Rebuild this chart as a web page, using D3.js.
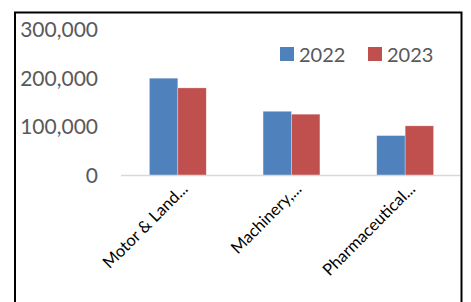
<!DOCTYPE html>
<html>
<head>
<meta charset="utf-8">
<script src="https://cdn.jsdelivr.net/npm/d3@7/dist/d3.min.js"></script>
<style>
  html, body { margin: 0; padding: 0; background: #fff; }
  svg { display: block; }
</style>
</head>
<body>
<script>
const categories = ["Motor & Land...", "Machinery,...", "Pharmaceutical..."];
const seriesNames = ["2022", "2023"];
const values2022 = [200000, 132000, 82000];
const values2023 = [180000, 126000, 102000];
const yTicks = [0, 100000, 200000, 300000];
const colors = ["#4f81bd", "#c0504d"];

const W = 471, H = 302;
const font = "Lato, 'Open Sans', sans-serif";

const svg = d3.select("body").append("svg")
    .attr("width", W)
    .attr("height", H);

// frame (bottom edge falls outside the picture)
svg.append("path")
    .attr("d", "M15,310 V12.5 H461.5 V310")
    .attr("fill", "none")
    .attr("stroke", "#000")
    .attr("stroke-width", 2);

const x = d3.scaleBand().domain(categories).range([121, 462]);
const x1 = d3.scaleBand().domain(seriesNames)
    .range([x.bandwidth() * 0.25, x.bandwidth() * 0.75]);
const y = d3.scaleLinear().domain([0, 300000]).range([175.5, 29.5]);

const rows = categories.map((c, i) => ({
    cat: c,
    vals: [values2022[i], values2023[i]]
}));

// y tick labels
const fmt = d3.format(",");
svg.append("g").selectAll("text")
    .data(yTicks)
    .enter()
    .append("text")
    .attr("x", 98)
    .attr("y", d => y(d))
    .attr("dy", "0.35em")
    .attr("text-anchor", "end")
    .attr("font-family", font)
    .attr("font-size", 21)
    .attr("fill", "#595959")
    .text(d => fmt(d));

// bars
const groups = svg.append("g").selectAll("g")
    .data(rows)
    .enter()
    .append("g")
    .attr("transform", d => `translate(${x(d.cat)},0)`);

groups.selectAll("rect")
    .data(d => d.vals.map((v, j) => ({ s: seriesNames[j], v: v, j: j })))
    .enter()
    .append("rect")
    .attr("x", d => x1(d.s))
    .attr("y", d => y(d.v))
    .attr("width", x1.bandwidth())
    .attr("height", d => y(0) - y(d.v))
    .attr("fill", d => colors[d.j])
    .attr("stroke", "#fff")
    .attr("stroke-opacity", 0.5)
    .attr("stroke-width", 0.6);

// baseline
svg.append("line")
    .attr("x1", 121)
    .attr("x2", 460)
    .attr("y1", y(0))
    .attr("y2", y(0))
    .attr("stroke", "#d9d9d9")
    .attr("stroke-width", 1.5);

// category labels
svg.append("g").selectAll("text")
    .data(categories)
    .enter()
    .append("text")
    .attr("transform", d => `translate(${x(d) + x.bandwidth() / 2 + 11},190) rotate(-45)`)
    .attr("text-anchor", "end")
    .attr("font-family", font)
    .attr("font-size", 16.5)
    .attr("fill", "#000")
    .text(d => d);

// legend
const legendX = [280, 368];
const legend = svg.append("g").selectAll("g")
    .data(seriesNames)
    .enter()
    .append("g")
    .attr("transform", (d, i) => `translate(${legendX[i]},47)`);

legend.append("rect")
    .attr("width", 14)
    .attr("height", 14)
    .attr("fill", (d, i) => colors[i]);

legend.append("text")
    .attr("x", 19)
    .attr("y", 14.5)
    .attr("font-family", font)
    .attr("font-size", 20)
    .attr("fill", "#595959")
    .text(d => d);
</script>
</body>
</html>
